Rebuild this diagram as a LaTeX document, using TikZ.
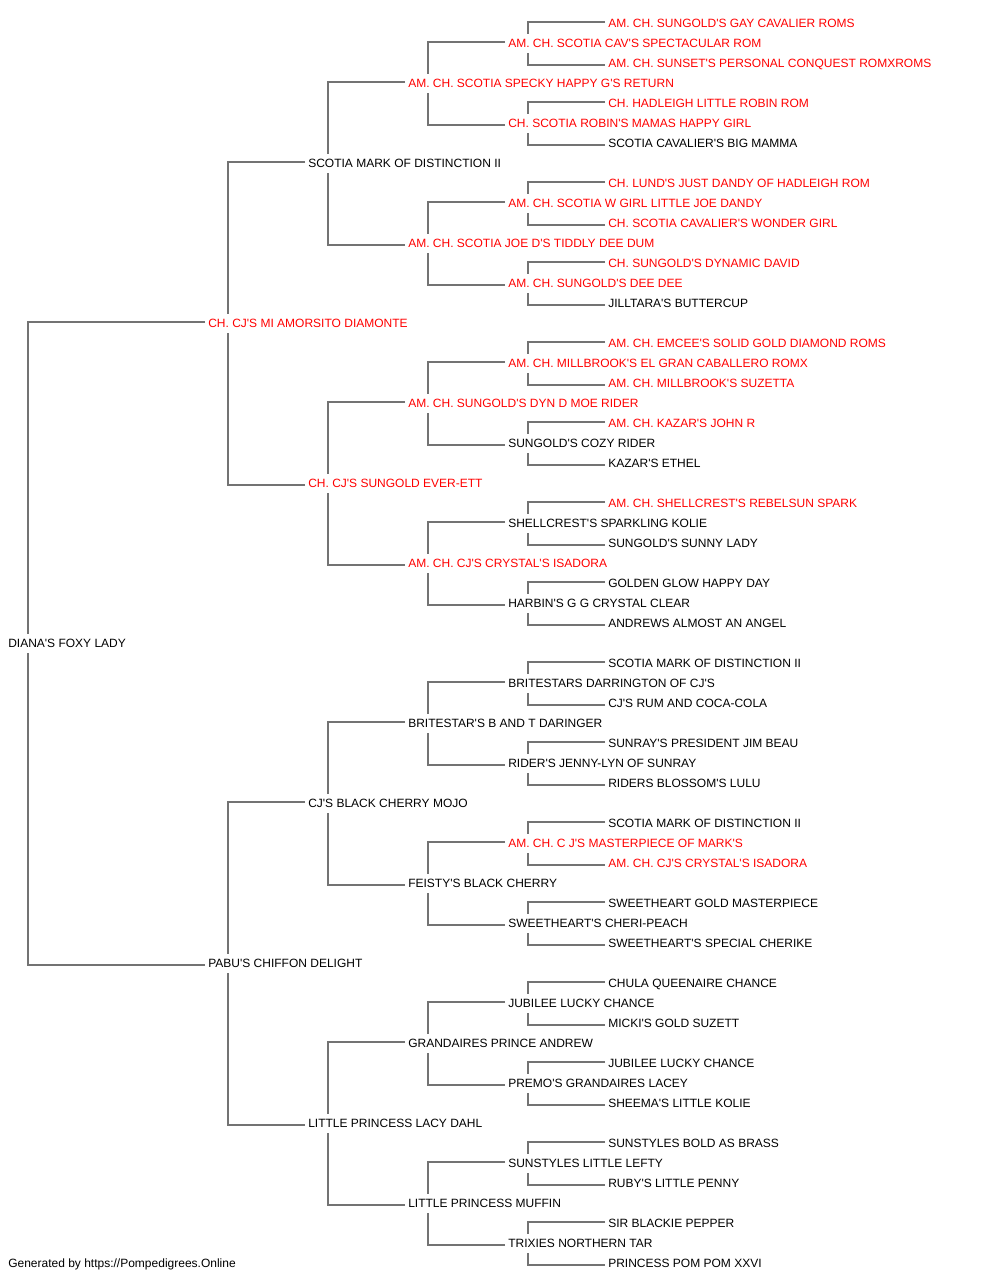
\documentclass[tikz,border=0pt]{standalone}
\usepackage{fontspec}
\newfontfamily\pedfont{Liberation Sans}
\usetikzlibrary{calc}
\definecolor{linkgray}{HTML}{737373}
\definecolor{redname}{HTML}{FF0000}
\newcommand\pedlink[3]{%
  \draw[link] ($(#2.west)+(-3,-1.5)$) -| ($(#1.west)+(20,-9)$);
  \draw[link] ($(#3.west)+(-3,2)$) -| ($(#1.west)+(20,10)$);}
\begin{document}
\begin{tikzpicture}[x=0.75pt,y=-0.75pt,
  dog/.style={anchor=west, inner sep=0pt, text height=6.45pt, text depth=0pt,
    font=\pedfont\fontsize{9pt}{10pt}\selectfont},
  champ/.style={dog, text=redname},
  plain/.style={dog, text=black},
  link/.style={draw=linkgray, line width=1.3pt}]
\useasboundingbox (0,0) rectangle (1000,1280);
% generation 0
\node[plain] (r31) at (8,643.3) {DIANA'S FOXY LADY};
% generation 1
\node[champ] (r15) at (208,323.3) {CH. CJ'S MI AMORSITO DIAMONTE};
\node[plain] (r47) at (208,963.3) {PABU'S CHIFFON DELIGHT};
% generation 2
\node[plain] (r7)  at (308,163.3) {SCOTIA MARK OF DISTINCTION II};
\node[champ] (r23) at (308,483.3) {CH. CJ'S SUNGOLD EVER-ETT};
\node[plain] (r39) at (308,803.3) {CJ'S BLACK CHERRY MOJO};
\node[plain] (r55) at (308,1123.3) {LITTLE PRINCESS LACY DAHL};
% generation 3
\node[champ] (r3)  at (408,83.3) {AM. CH. SCOTIA SPECKY HAPPY G'S RETURN};
\node[champ] (r11) at (408,243.3) {AM. CH. SCOTIA JOE D'S TIDDLY DEE DUM};
\node[champ] (r19) at (408,403.3) {AM. CH. SUNGOLD'S DYN D MOE RIDER};
\node[champ] (r27) at (408,563.3) {AM. CH. CJ'S CRYSTAL'S ISADORA};
\node[plain] (r35) at (408,723.3) {BRITESTAR'S B AND T DARINGER};
\node[plain] (r43) at (408,883.3) {FEISTY'S BLACK CHERRY};
\node[plain] (r51) at (408,1043.3) {GRANDAIRES PRINCE ANDREW};
\node[plain] (r59) at (408,1203.3) {LITTLE PRINCESS MUFFIN};
% generation 4
\node[champ] (r1)  at (508,43.3) {AM. CH. SCOTIA CAV'S SPECTACULAR ROM};
\node[champ] (r5)  at (508,123.3) {CH. SCOTIA ROBIN'S MAMAS HAPPY GIRL};
\node[champ] (r9)  at (508,203.3) {AM. CH. SCOTIA W GIRL LITTLE JOE DANDY};
\node[champ] (r13) at (508,283.3) {AM. CH. SUNGOLD'S DEE DEE};
\node[champ] (r17) at (508,363.3) {AM. CH. MILLBROOK'S EL GRAN CABALLERO ROMX};
\node[plain] (r21) at (508,443.3) {SUNGOLD'S COZY RIDER};
\node[plain] (r25) at (508,523.3) {SHELLCREST'S SPARKLING KOLIE};
\node[plain] (r29) at (508,603.3) {HARBIN'S G G CRYSTAL CLEAR};
\node[plain] (r33) at (508,683.3) {BRITESTARS DARRINGTON OF CJ'S};
\node[plain] (r37) at (508,763.3) {RIDER'S JENNY-LYN OF SUNRAY};
\node[champ] (r41) at (508,843.3) {AM. CH. C J'S MASTERPIECE OF MARK'S};
\node[plain] (r45) at (508,923.3) {SWEETHEART'S CHERI-PEACH};
\node[plain] (r49) at (508,1003.3) {JUBILEE LUCKY CHANCE};
\node[plain] (r53) at (508,1083.3) {PREMO'S GRANDAIRES LACEY};
\node[plain] (r57) at (508,1163.3) {SUNSTYLES LITTLE LEFTY};
\node[plain] (r61) at (508,1243.3) {TRIXIES NORTHERN TAR};
% generation 5
\node[champ] (r0)  at (608,23.3) {AM. CH. SUNGOLD'S GAY CAVALIER ROMS};
\node[champ] (r2)  at (608,63.3) {AM. CH. SUNSET'S PERSONAL CONQUEST ROMXROMS};
\node[champ] (r4)  at (608,103.3) {CH. HADLEIGH LITTLE ROBIN ROM};
\node[plain] (r6)  at (608,143.3) {SCOTIA CAVALIER'S BIG MAMMA};
\node[champ] (r8)  at (608,183.3) {CH. LUND'S JUST DANDY OF HADLEIGH ROM};
\node[champ] (r10) at (608,223.3) {CH. SCOTIA CAVALIER'S WONDER GIRL};
\node[champ] (r12) at (608,263.3) {CH. SUNGOLD'S DYNAMIC DAVID};
\node[plain] (r14) at (608,303.3) {JILLTARA'S BUTTERCUP};
\node[champ] (r16) at (608,343.3) {AM. CH. EMCEE'S SOLID GOLD DIAMOND ROMS};
\node[champ] (r18) at (608,383.3) {AM. CH. MILLBROOK'S SUZETTA};
\node[champ] (r20) at (608,423.3) {AM. CH. KAZAR'S JOHN R};
\node[plain] (r22) at (608,463.3) {KAZAR'S ETHEL};
\node[champ] (r24) at (608,503.3) {AM. CH. SHELLCREST'S REBELSUN SPARK};
\node[plain] (r26) at (608,543.3) {SUNGOLD'S SUNNY LADY};
\node[plain] (r28) at (608,583.3) {GOLDEN GLOW HAPPY DAY};
\node[plain] (r30) at (608,623.3) {ANDREWS ALMOST AN ANGEL};
\node[plain] (r32) at (608,663.3) {SCOTIA MARK OF DISTINCTION II};
\node[plain] (r34) at (608,703.3) {CJ'S RUM AND COCA-COLA};
\node[plain] (r36) at (608,743.3) {SUNRAY'S PRESIDENT JIM BEAU};
\node[plain] (r38) at (608,783.3) {RIDERS BLOSSOM'S LULU};
\node[plain] (r40) at (608,823.3) {SCOTIA MARK OF DISTINCTION II};
\node[champ] (r42) at (608,863.3) {AM. CH. CJ'S CRYSTAL'S ISADORA};
\node[plain] (r44) at (608,903.3) {SWEETHEART GOLD MASTERPIECE};
\node[plain] (r46) at (608,943.3) {SWEETHEART'S SPECIAL CHERIKE};
\node[plain] (r48) at (608,983.3) {CHULA QUEENAIRE CHANCE};
\node[plain] (r50) at (608,1023.3) {MICKI'S GOLD SUZETT};
\node[plain] (r52) at (608,1063.3) {JUBILEE LUCKY CHANCE};
\node[plain] (r54) at (608,1103.3) {SHEEMA'S LITTLE KOLIE};
\node[plain] (r56) at (608,1143.3) {SUNSTYLES BOLD AS BRASS};
\node[plain] (r58) at (608,1183.3) {RUBY'S LITTLE PENNY};
\node[plain] (r60) at (608,1223.3) {SIR BLACKIE PEPPER};
\node[plain] (r62) at (608,1263.3) {PRINCESS POM POM XXVI};
% footer
\node[plain] (credit) at (8,1263.3) {Generated by https://Pompedigrees.Online};
% connectors
\pedlink{r31}{r15}{r47}
\pedlink{r15}{r7}{r23}
\pedlink{r47}{r39}{r55}
\pedlink{r7}{r3}{r11}
\pedlink{r23}{r19}{r27}
\pedlink{r39}{r35}{r43}
\pedlink{r55}{r51}{r59}
\pedlink{r3}{r1}{r5}
\pedlink{r11}{r9}{r13}
\pedlink{r19}{r17}{r21}
\pedlink{r27}{r25}{r29}
\pedlink{r35}{r33}{r37}
\pedlink{r43}{r41}{r45}
\pedlink{r51}{r49}{r53}
\pedlink{r59}{r57}{r61}
\pedlink{r1}{r0}{r2}
\pedlink{r5}{r4}{r6}
\pedlink{r9}{r8}{r10}
\pedlink{r13}{r12}{r14}
\pedlink{r17}{r16}{r18}
\pedlink{r21}{r20}{r22}
\pedlink{r25}{r24}{r26}
\pedlink{r29}{r28}{r30}
\pedlink{r33}{r32}{r34}
\pedlink{r37}{r36}{r38}
\pedlink{r41}{r40}{r42}
\pedlink{r45}{r44}{r46}
\pedlink{r49}{r48}{r50}
\pedlink{r53}{r52}{r54}
\pedlink{r57}{r56}{r58}
\pedlink{r61}{r60}{r62}
\end{tikzpicture}
\end{document}
